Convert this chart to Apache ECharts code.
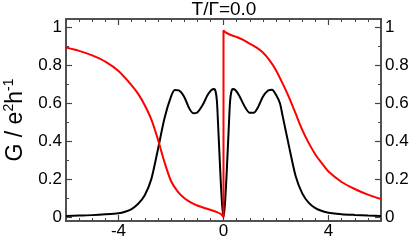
<!DOCTYPE html>
<html>
<head>
<meta charset="utf-8">
<script src="https://cdn.jsdelivr.net/npm/echarts@6/dist/echarts.min.js"></script>
<style>
  html, body { margin: 0; padding: 0; background: #fff; }
  #chart { width: 411px; height: 240px; }
</style>
</head>
<body>
<div id="chart"></div>
<script>
// conductance, black curve
const blackX = [-6, -5.5, -5, -4.5, -4, -3.75, -3.5, -3.25, -3, -2.75, -2.5, -2.25, -2, -1.85, -1.7, -1.5, -1.3, -1.15, -1, -0.8, -0.6, -0.45, -0.35, -0.3, -0.25, -0.2, -0.15, -0.1, -0.05, 0,
  0.05, 0.1, 0.15, 0.2, 0.25, 0.3, 0.35, 0.45, 0.6, 0.8, 1, 1.15, 1.3, 1.5, 1.7, 1.85, 2, 2.15, 2.25, 2.5, 2.75, 3, 3.25, 3.5, 3.75, 4, 4.5, 5, 5.5, 6];
const blackY = [0.006, 0.008, 0.010, 0.014, 0.02, 0.028, 0.042, 0.07, 0.115, 0.2, 0.355, 0.52, 0.635, 0.67, 0.668, 0.635, 0.572, 0.548, 0.552, 0.59, 0.645, 0.672, 0.675, 0.662, 0.61, 0.47, 0.32, 0.175, 0.06, 0.0,
  0.06, 0.175, 0.32, 0.47, 0.61, 0.662, 0.675, 0.67, 0.64, 0.585, 0.55, 0.55, 0.575, 0.635, 0.668, 0.672, 0.645, 0.6, 0.535, 0.37, 0.215, 0.125, 0.075, 0.047, 0.032, 0.023, 0.015, 0.011, 0.008, 0.006];

// red curve, jumps at 0
const redX = [-6, -5.5, -5, -4.5, -4, -3.5, -3.25, -3, -2.75, -2.5, -2.25, -2, -1.75, -1.5, -1.25, -1, -0.75, -0.5, -0.25, -0.1, 0,
  0, 0.1, 0.25, 0.5, 0.75, 1, 1.25, 1.5, 1.75, 2, 2.25, 2.5, 2.75, 3, 3.25, 3.5, 3.75, 4, 4.5, 5, 5.5, 6];
const redY = [0.895, 0.877, 0.853, 0.82, 0.77, 0.695, 0.65, 0.59, 0.515, 0.41, 0.29, 0.19, 0.135, 0.1, 0.077, 0.061, 0.049, 0.038, 0.026, 0.016, 0.0,
  0.985, 0.973, 0.962, 0.95, 0.935, 0.915, 0.895, 0.868, 0.828, 0.775, 0.705, 0.63, 0.545, 0.46, 0.39, 0.33, 0.283, 0.24, 0.185, 0.148, 0.118, 0.095];

const xMajor = [-4, 0, 4];
const yMajor = [0, 0.2, 0.4, 0.6, 0.8, 1];
const yMinor = [0.1, 0.3, 0.5, 0.7, 0.9];
const yLabels = ["0", "0.2", "0.4", "0.6", "0.8", "1"];
const titleText = "T/\u0393=0.0";

const FRAME = "#454545";
const FONT = "Liberation Sans, Arial, sans-serif";

const pairs = (xs, ys) => xs.map((x, i) => [x, ys[i]]);

function xAxisDef(position, major, showLabel) {
  const base = {
    type: "value",
    position,
    min: -6,
    max: 6,
    splitLine: { show: false },
    axisLine: { show: true, onZero: false, lineStyle: { color: FRAME, width: 1.5 } }
  };
  if (major) {
    return {
      ...base,
      axisTick: { show: true, inside: true, length: 6, customValues: xMajor, lineStyle: { color: FRAME, width: 1.2 } },
      axisLabel: {
        show: showLabel,
        customValues: xMajor,
        margin: 2,
        color: "#000",
        fontSize: 17,
        fontFamily: FONT
      }
    };
  }
  return {
    ...base,
    interval: 0.5,
    axisTick: { show: true, inside: true, length: 3, lineStyle: { color: FRAME, width: 1 } },
    axisLabel: { show: false }
  };
}

function yAxisDef(position, major) {
  const base = {
    type: "value",
    position,
    min: -0.021,
    max: 1.045,
    splitLine: { show: false },
    axisLine: { show: true, onZero: false, lineStyle: { color: FRAME, width: 1.5 } }
  };
  if (major) {
    return {
      ...base,
      axisTick: { show: true, inside: true, length: 6, customValues: yMajor, lineStyle: { color: FRAME, width: 1.2 } },
      axisLabel: {
        show: true,
        customValues: yMajor,
        margin: 4,
        color: "#000",
        fontSize: 17,
        fontFamily: FONT,
        formatter: (v) => yLabels[Math.round(v * 5)]
      }
    };
  }
  return {
    ...base,
    axisTick: { show: true, inside: true, length: 3, customValues: yMinor, lineStyle: { color: FRAME, width: 1 } },
    axisLabel: { show: false }
  };
}

const chart = echarts.init(document.getElementById("chart"), null, { renderer: "canvas" });

const yLeft = yAxisDef("left", true);
yLeft.name = "{m|G / e}{s|2}{m|h}{s|-1}";
yLeft.nameLocation = "middle";
yLeft.nameRotate = 90;
yLeft.nameGap = 36;
yLeft.nameTextStyle = {
  color: "#000",
  fontFamily: FONT,
  rich: {
    m: { fontSize: 23, lineHeight: 28, fontFamily: FONT, color: "#000" },
    s: { fontSize: 14, lineHeight: 15, verticalAlign: "top", fontFamily: FONT, color: "#000" }
  }
};

chart.setOption({
  animation: false,
  backgroundColor: "#fff",
  title: {
    text: titleText,
    left: 224,
    top: 0,
    padding: 0,
    textAlign: "center",
    textStyle: { fontSize: 19, fontWeight: "normal", color: "#000", fontFamily: FONT }
  },
  grid: { left: 66, right: 30, top: 19, bottom: 19, containLabel: false, outerBoundsMode: "none" },
  xAxis: [
    xAxisDef("bottom", true, true),
    xAxisDef("bottom", false, false),
    xAxisDef("top", true, false),
    xAxisDef("top", false, false)
  ],
  yAxis: [
    yLeft,
    yAxisDef("left", false),
    yAxisDef("right", true),
    yAxisDef("right", false)
  ],
  series: [
    {
      name: "black",
      type: "line",
      data: pairs(blackX, blackY),
      showSymbol: false,
      smooth: 0.25,
      lineStyle: { color: "#000", width: 2 },
      z: 3
    },
    {
      name: "red",
      type: "line",
      data: pairs(redX, redY),
      showSymbol: false,
      smooth: 0.25,
      lineStyle: { color: "#ff0000", width: 2 },
      z: 4
    }
  ]
});
</script>
</body>
</html>
